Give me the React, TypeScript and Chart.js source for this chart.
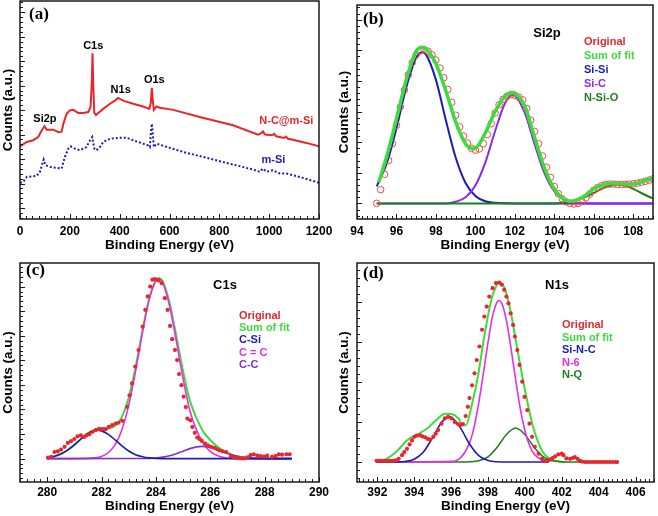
import React, { useEffect, useRef } from "react";
import { Chart, registerables } from "chart.js";

Chart.register(...registerables);

// ---------------- (a) survey spectra ----------------
const surveyNCEnergy = [0, 27, 53, 73, 87, 98, 107, 134, 154, 167, 174, 187, 200, 214, 234, 254, 274, 283, 288, 291, 294, 298, 305, 314, 334, 361, 381, 394, 414, 454, 494, 519, 525, 529, 533, 537, 548, 561, 615, 721, 855, 955, 968, 975, 982, 1000, 1015, 1020, 1028, 1060, 1068, 1075, 1095, 1149, 1200];
const surveyNCCounts = [2.52, 2.70, 2.77, 2.90, 3.17, 3.34, 3.20, 3.20, 3.10, 3.12, 3.44, 3.85, 3.99, 4.01, 3.88, 3.88, 3.92, 4.12, 5.07, 6.32, 5.07, 3.90, 3.80, 3.88, 4.05, 4.26, 4.39, 4.50, 4.39, 4.26, 4.15, 4.05, 4.30, 4.91, 4.40, 4.01, 4.15, 4.10, 4.01, 3.72, 3.38, 3.00, 3.06, 3.13, 3.01, 2.97, 2.99, 3.03, 2.93, 2.86, 2.92, 2.83, 2.79, 2.66, 2.52];
const surveyMSiEnergy = [0, 13, 27, 67, 80, 90, 95, 102, 120, 167, 180, 194, 203, 220, 240, 267, 281, 290, 298, 307, 321, 334, 361, 401, 428, 454, 494, 514, 521, 525, 529, 533, 537, 548, 575, 655, 788, 935, 962, 975, 989, 1015, 1042, 1069, 1122, 1200];
const surveyMSiCounts = [1.03, 1.07, 1.27, 1.31, 1.48, 1.82, 1.98, 1.75, 1.68, 1.61, 2.09, 2.43, 2.52, 2.43, 2.36, 2.49, 2.77, 2.90, 2.43, 2.36, 2.49, 2.70, 2.83, 2.87, 2.87, 2.77, 2.63, 2.56, 2.49, 3.04, 3.44, 3.04, 2.49, 2.63, 2.54, 2.29, 1.95, 1.57, 1.48, 1.61, 1.48, 1.54, 1.41, 1.41, 1.27, 1.03];
const surveyPeakLabels = ["Si2p", "C1s", "N1s", "O1s"];
const surveyPeakEnergy = [100, 294, 404, 539];
const surveyPeakLevel = [3.65, 6.62, 4.83, 5.22];

// ---------------- (b) Si2p ----------------
const si2pOrigEnergy = [95.0, 95.2, 95.4, 95.6, 95.8, 96.0, 96.2, 96.4, 96.6, 96.8, 97.0, 97.2, 97.4, 97.6, 97.8, 98.0, 98.2, 98.4, 98.6, 98.8, 99.0, 99.2, 99.4, 99.6, 99.8, 100.0, 100.2, 100.4, 100.6, 100.8, 101.0, 101.2, 101.4, 101.6, 101.8, 102.0, 102.2, 102.4, 102.6, 102.8, 103.0, 103.2, 103.4, 103.6, 103.8, 104.0, 104.2, 104.4, 104.6, 104.8, 105.0, 105.2, 105.4, 105.6, 105.8, 106.0, 106.2, 106.4, 106.6, 106.8, 107.0, 107.2, 107.4, 107.6, 107.8, 108.0, 108.2, 108.4, 108.6, 108.8, 109.0];
const si2pOrigCounts = [0.0, 0.45, 0.95, 1.4, 1.95, 2.55, 3.15, 3.7, 4.2, 4.6, 4.85, 4.98, 5.02, 4.97, 4.85, 4.68, 4.42, 4.1, 3.72, 3.3, 2.88, 2.5, 2.2, 1.97, 1.8, 1.74, 1.78, 1.95, 2.25, 2.6, 2.95, 3.22, 3.4, 3.5, 3.55, 3.53, 3.47, 3.38, 3.1, 2.72, 2.35, 1.95, 1.55, 1.18, 0.85, 0.55, 0.32, 0.15, 0.05, 0.0, -0.02, 0.0, 0.06, 0.18, 0.31, 0.43, 0.52, 0.58, 0.62, 0.63, 0.63, 0.62, 0.62, 0.62, 0.63, 0.64, 0.66, 0.69, 0.72, 0.76, 0.8];
const si2pSumEnergy = [95.1, 95.5, 96.0, 96.5, 97.0, 97.3, 97.5, 98.0, 98.5, 99.0, 99.5, 99.85, 100.0, 100.5, 101.0, 101.5, 101.9, 102.0, 102.5, 103.0, 103.5, 104.0, 104.5, 104.9, 105.5, 106.0, 106.5, 107.0, 107.5, 108.0, 108.5, 109.0];
const si2pSumCounts = [0.69, 1.52, 2.76, 4.05, 4.97, 5.10, 5.05, 4.56, 3.68, 2.66, 1.95, 1.80, 1.81, 2.3, 3.0, 3.5, 3.62, 3.6, 3.18, 2.15, 1.15, 0.47, 0.13, 0.07, 0.23, 0.48, 0.62, 0.66, 0.63, 0.63, 0.73, 0.82];
const siSiEnergy = [95.0, 95.5, 96.0, 96.5, 97.0, 97.3, 97.5, 98.0, 98.5, 99.0, 99.5, 100.0, 100.5, 101.0, 101.5, 102.0, 109.0];
const siSiCounts = [0.555, 1.294, 2.458, 3.792, 4.760, 4.94, 4.859, 4.034, 2.725, 1.497, 0.668, 0.243, 0.072, 0.017, 0.003, 0, 0];
const siCEnergy = [95.0, 98.5, 99.0, 99.5, 100.0, 100.5, 101.0, 101.5, 101.9, 102.0, 102.5, 103.0, 103.5, 104.0, 104.5, 105.0, 105.5, 106.0, 109.0];
const siCCounts = [0, 0, 0.053, 0.199, 0.583, 1.331, 2.364, 3.272, 3.545, 3.527, 2.961, 1.936, 0.986, 0.391, 0.121, 0.029, 0.005, 0, 0];
const nSiOEnergy = [95.0, 104.0, 104.5, 105.0, 105.5, 106.0, 106.5, 107.0, 107.2, 107.5, 108.0, 108.5, 109.0];
const nSiOCounts = [0, 0, 0.030, 0.082, 0.186, 0.340, 0.505, 0.610, 0.62, 0.597, 0.475, 0.307, 0.161];

// ---------------- (c) C1s ----------------
const c1sOrigEnergy = [280.03, 280.15, 280.27, 280.39, 280.51, 280.64, 280.76, 280.88, 281.0, 281.12, 281.24, 281.36, 281.45, 281.55, 281.67, 281.79, 281.91, 282.03, 282.15, 282.27, 282.39, 282.52, 282.62, 282.76, 282.94, 283.03, 283.12, 283.24, 283.36, 283.51, 283.61, 283.7, 283.79, 283.87, 283.97, 284.09, 284.21, 284.33, 284.43, 284.52, 284.6, 284.7, 284.78, 284.85, 284.94, 285.02, 285.1, 285.16, 285.27, 285.34, 285.43, 285.52, 285.6, 285.69, 285.81, 285.91, 286.03, 286.15, 286.24, 286.33, 286.45, 286.58, 286.76, 286.88, 287.0, 287.12, 287.24, 287.36, 287.48, 287.6, 287.73, 287.85, 287.97, 288.09, 288.27, 288.4, 288.52, 288.64, 288.8, 288.92];
const c1sOrigCounts = [0.04, 0.07, 0.27, 0.30, 0.37, 0.48, 0.64, 0.71, 0.80, 0.91, 0.95, 0.88, 0.95, 0.99, 1.09, 1.16, 1.21, 1.20, 1.20, 1.29, 1.36, 1.43, 1.46, 1.54, 2.11, 2.58, 3.06, 3.75, 4.42, 5.37, 6.05, 6.6, 7.0, 7.28, 7.31, 7.25, 7.14, 6.53, 6.05, 5.40, 4.86, 4.42, 4.01, 3.44, 2.99, 2.52, 2.1, 1.63, 1.56, 1.29, 1.05, 0.86, 0.80, 0.72, 0.61, 0.54, 0.48, 0.44, 0.39, 0.34, 0.30, 0.27, 0.10, 0.04, 0.04, 0.02, 0.01, 0.05, 0.14, 0.18, 0.12, 0.10, 0.08, 0.12, 0.07, 0.10, 0.18, 0.16, 0.18, 0.18];
const c1sSumEnergy = [280.0, 280.25, 280.5, 280.75, 281.0, 281.25, 281.5, 281.75, 282.0, 282.25, 282.5, 282.75, 283.0, 283.25, 283.5, 283.75, 284.0, 284.1, 284.25, 284.5, 284.75, 285.0, 285.25, 285.5, 285.75, 286.0, 286.25, 286.5, 286.75, 287.0, 287.25, 287.5, 288.0, 289.0];
const c1sSumCounts = [0.04, 0.09, 0.19, 0.35, 0.56, 0.81, 1.04, 1.18, 1.22, 1.23, 1.34, 1.70, 2.49, 3.71, 5.18, 6.50, 7.26, 7.35, 7.21, 6.35, 4.99, 3.56, 2.36, 1.63, 1.09, 0.76, 0.50, 0.31, 0.18, 0.09, 0.045, 0.02, 0, 0];
const cSiEnergy = [280.0, 280.25, 280.5, 280.75, 281.0, 281.25, 281.5, 281.75, 281.85, 282.0, 282.25, 282.5, 282.75, 283.0, 283.25, 283.5, 283.75, 284.0, 284.5, 289.0];
const cSiCounts = [0.04, 0.09, 0.19, 0.35, 0.56, 0.81, 1.03, 1.15, 1.16, 1.13, 0.99, 0.76, 0.52, 0.31, 0.16, 0.08, 0.03, 0.01, 0, 0];
const cEqCEnergy = [280.0, 281.5, 281.75, 282.0, 282.25, 282.5, 282.75, 283.0, 283.25, 283.5, 283.75, 284.0, 284.1, 284.25, 284.5, 284.75, 285.0, 285.25, 285.5, 285.75, 286.0, 286.25, 286.5, 286.75, 287.0, 289.0];
const cEqCCounts = [0, 0.01, 0.03, 0.09, 0.24, 0.57, 1.18, 2.18, 3.55, 5.10, 6.47, 7.24, 7.31, 7.15, 6.23, 4.79, 3.25, 1.95, 1.15, 0.6, 0.3, 0.13, 0.05, 0.015, 0, 0];
const cCEnergy = [280.0, 283.5, 284.0, 284.25, 284.5, 284.75, 285.0, 285.25, 285.5, 285.7, 286.0, 286.25, 286.5, 286.75, 287.0, 287.25, 287.5, 288.0, 289.0];
const cCCounts = [0, 0.005, 0.028, 0.061, 0.118, 0.203, 0.306, 0.408, 0.48, 0.5, 0.457, 0.37, 0.264, 0.166, 0.092, 0.045, 0.02, 0, 0];

// ---------------- (d) N1s ----------------
const n1sOrigEnergy = [391.96, 392.1, 392.25, 392.4, 392.55, 392.7, 392.85, 393.0, 393.16, 393.34, 393.46, 393.61, 393.75, 393.88, 394.0, 394.14, 394.32, 394.45, 394.59, 394.72, 394.86, 395.04, 395.17, 395.3, 395.48, 395.66, 395.84, 396.02, 396.2, 396.38, 396.5, 396.64, 396.79, 396.91, 397.0, 397.14, 397.27, 397.39, 397.54, 397.68, 397.8, 397.93, 398.07, 398.25, 398.43, 398.61, 398.75, 398.88, 399.0, 399.11, 399.23, 399.36, 399.46, 399.59, 399.71, 399.86, 399.98, 400.13, 400.25, 400.39, 400.54, 400.75, 400.93, 401.11, 401.25, 401.38, 401.5, 401.64, 401.82, 402.0, 402.09, 402.25, 402.45, 402.6, 402.71, 402.85, 402.98, 403.1, 403.25, 403.4, 403.55, 403.7, 403.85, 404.0, 404.15, 404.3, 404.45, 404.6, 404.75, 404.9, 405.0];
const n1sOrigCounts = [0.03, 0.03, 0.03, 0.03, 0.03, 0.03, 0.03, 0.04, 0.08, 0.17, 0.25, 0.33, 0.44, 0.54, 0.63, 0.66, 0.67, 0.64, 0.62, 0.58, 0.56, 0.63, 0.71, 0.80, 0.96, 1.09, 1.13, 1.09, 1.00, 0.95, 0.92, 0.95, 1.15, 1.38, 1.6, 1.92, 2.22, 2.55, 2.89, 3.31, 3.64, 3.89, 4.14, 4.35, 4.48, 4.49, 4.44, 4.31, 4.14, 3.97, 3.72, 3.43, 3.14, 2.80, 2.43, 2.01, 1.63, 1.30, 0.96, 0.63, 0.38, 0.21, 0.08, 0.03, 0.04, 0.06, 0.10, 0.14, 0.19, 0.21, 0.17, 0.09, 0.08, 0.10, 0.12, 0.08, 0.03, 0.01, 0.0, 0.0, 0.0, 0.0, 0.0, 0.0, 0.0, 0.0, 0.0, 0.0, 0.0, 0.0, 0.0];
const n1sSumEnergy = [392.0, 392.5, 393.1, 393.6, 394.1, 394.7, 395.2, 395.66, 396.0, 396.4, 396.64, 396.8, 397.1, 397.45, 397.8, 398.16, 398.43, 398.6, 398.9, 399.25, 399.6, 400.04, 400.4, 400.75, 401.1, 401.6, 402.2];
const n1sSumCounts = [0.0, 0.08, 0.29, 0.54, 0.67, 0.84, 1.05, 1.21, 1.2, 1.09, 0.92, 0.92, 1.38, 2.13, 3.14, 4.02, 4.39, 4.48, 4.35, 3.72, 2.8, 1.72, 0.96, 0.46, 0.17, 0.04, 0.0];
const siNCEnergy = [392.0, 393.0, 393.5, 394.0, 394.5, 395.0, 395.5, 395.9, 396.0, 396.5, 397.0, 397.5, 398.0, 398.5, 399.0, 401.3];
const siNCCounts = [0, 0.002, 0.013, 0.07, 0.25, 0.61, 1.0, 1.13, 1.12, 0.86, 0.45, 0.16, 0.04, 0.006, 0, 0];
const n6Energy = [392.0, 396.0, 396.5, 397.0, 397.25, 397.5, 397.75, 398.0, 398.25, 398.5, 398.6, 398.75, 399.0, 399.25, 399.5, 399.75, 400.0, 400.25, 400.5, 401.0, 401.3];
const n6Counts = [0, 0.015, 0.10, 0.48, 0.88, 1.48, 2.21, 2.99, 3.65, 4.01, 4.04, 3.97, 3.54, 2.84, 2.06, 1.34, 0.79, 0.42, 0.2, 0.03, 0];
const nQEnergy = [392.0, 396.5, 397.0, 397.5, 398.0, 398.5, 399.0, 399.5, 400.0, 400.5, 401.0, 401.5, 402.0, 402.5, 403.2];
const nQCounts = [0, 0, 0.005, 0.03, 0.13, 0.37, 0.69, 0.85, 0.69, 0.37, 0.13, 0.03, 0.005, 0, 0];

// ---------------- styles ----------------
const RED = "#e8262b";
const CIRCLE_RED = "#f04a4a";
const SUM_GREEN = "#3ddc3d";
const BLUE = "#1c1cb8";
const VIOLET = "#8a2be2";
const PURPLE = "#7d35c8";
const MAGENTA = "#e62ee6";
const DARK_GREEN = "#1f7f1f";
const AXIS = "#1a1a1a";
const SANS = '"Liberation Sans", Arial, sans-serif';
const SERIF = '"Liberation Serif", "Times New Roman", serif';

const zip = (xs: number[], ys: number[]) => xs.map((x, i) => ({ x, y: ys[i] }));

function lineDs(label: string, xs: number[], ys: number[], color: string, width: number, smooth = true, dash: number[] = []) {
  return {
    label,
    data: zip(xs, ys),
    showLine: true,
    borderColor: color,
    backgroundColor: color,
    borderWidth: width,
    borderDash: dash,
    pointRadius: 0,
    fill: false,
    tension: 0,
    cubicInterpolationMode: smooth ? "monotone" : "default",
  };
}

function dotDs(label: string, xs: number[], ys: number[], open: boolean) {
  return {
    label,
    data: zip(xs, ys),
    showLine: false,
    pointStyle: "circle",
    pointRadius: open ? 3.3 : 2.1,
    pointBorderWidth: open ? 1 : 0,
    pointBorderColor: open ? CIRCLE_RED : RED,
    pointBackgroundColor: open ? "rgba(0,0,0,0)" : RED,
  };
}

const decoPlugin = {
  id: "deco",
  afterDraw(chart: any) {
    const o = chart.options.plugins.deco;
    if (!o) return;
    const { ctx, chartArea: ca } = chart;
    const xs = chart.scales.x;
    const ys = chart.scales.y;
    ctx.save();
    ctx.strokeStyle = AXIS;
    ctx.lineWidth = 1;
    ctx.beginPath();
    const xt = xs.ticks.map((t: any) => t.value);
    const xm = (xt[1] - xt[0]) / o.xMinor;
    const xk0 = Math.ceil((xs.min - xt[0]) / xm - 1e-6);
    const xk1 = Math.floor((xs.max - xt[0]) / xm + 1e-6);
    for (let k = xk0; k <= xk1; k++) {
      const p = Math.round(xs.getPixelForValue(xt[0] + k * xm)) + 0.5;
      const len = k % o.xMinor === 0 ? 5 : 3;
      ctx.moveTo(p, ca.bottom);
      ctx.lineTo(p, ca.bottom - len);
    }
    const yt = ys.ticks.map((t: any) => t.value);
    const ym = (yt[1] - yt[0]) / o.yMinor;
    const yk0 = Math.ceil((ys.min - yt[0]) / ym - 1e-6);
    const yk1 = Math.floor((ys.max - yt[0]) / ym + 1e-6);
    for (let k = yk0; k <= yk1; k++) {
      const p = Math.round(ys.getPixelForValue(yt[0] + k * ym)) + 0.5;
      const len = k % o.yMinor === 0 ? 5 : 3;
      ctx.moveTo(ca.left, p);
      ctx.lineTo(ca.left + len, p);
    }
    ctx.stroke();
    ctx.lineWidth = 1.5;
    ctx.strokeRect(ca.left, ca.top, ca.right - ca.left, ca.bottom - ca.top);

    ctx.textBaseline = "middle";
    ctx.fillStyle = "#000";
    ctx.textAlign = "left";
    ctx.font = `bold 17px ${SERIF}`;
    ctx.fillText(o.letter, ca.left + o.letterX, ca.top + o.letterY);
    if (o.heading) {
      ctx.textAlign = "center";
      ctx.font = `bold 13px ${SANS}`;
      ctx.fillText(o.heading.text, ca.left + o.heading.x, ca.top + o.heading.y);
    }
    if (o.legend) {
      ctx.textAlign = "left";
      ctx.font = `bold 11px ${SANS}`;
      o.legend.items.forEach((it: any, i: number) => {
        ctx.fillStyle = it.color;
        ctx.fillText(it.text, ca.left + o.legend.x, ca.top + o.legend.y + i * o.legend.dy);
      });
    }
    if (o.notes) {
      ctx.textAlign = "center";
      ctx.font = `bold 11px ${SANS}`;
      o.notes.forEach((n: any) => {
        ctx.fillStyle = n.color;
        ctx.fillText(n.text, xs.getPixelForValue(n.x), ys.getPixelForValue(n.y));
      });
    }
    ctx.restore();
  },
};

type Geo = {
  left: number; top: number; width: number; height: number;
  padTop: number; padRight: number; yAxisW: number; xAxisH: number;
  tickPad: number; xTitlePad: number; yTitlePad: number;
};

function makeConfig(geo: Geo, xr: [number, number, number], yr: [number, number], datasets: any[], deco: any) {
  return {
    type: "scatter",
    data: { datasets },
    plugins: [decoPlugin],
    options: {
      responsive: false,
      animation: false,
      events: [],
      layout: { padding: { left: 0, top: geo.padTop, right: geo.padRight, bottom: 0 } },
      plugins: { legend: { display: false }, tooltip: { enabled: false }, deco },
      scales: {
        x: {
          type: "linear",
          min: xr[0],
          max: xr[1],
          afterFit: (s: any) => { s.height = geo.xAxisH; },
          grid: { display: false, drawTicks: false, tickLength: 0 },
          border: { display: false },
          ticks: {
            stepSize: xr[2],
            includeBounds: false,
            autoSkip: false,
            maxRotation: 0,
            padding: geo.tickPad,
            color: "#000",
            font: { family: SANS, size: 12, weight: "bold" },
            callback: (v: any) => String(v),
          },
          title: {
            display: true,
            text: "Binding Energy (eV)",
            color: "#000",
            font: { family: SANS, size: 13.5, weight: "bold" },
            padding: { top: 0, bottom: geo.xTitlePad },
          },
        },
        y: {
          type: "linear",
          min: yr[0],
          max: yr[1],
          afterFit: (s: any) => { s.width = geo.yAxisW; },
          grid: { display: false, drawTicks: false, tickLength: 0 },
          border: { display: false },
          ticks: { display: false, stepSize: 1, includeBounds: false },
          title: {
            display: true,
            text: "Counts (a.u.)",
            color: "#000",
            font: { family: SANS, size: 13.5, weight: "bold" },
            padding: { top: geo.yTitlePad, bottom: 0 },
          },
        },
      },
    },
  };
}

function Panel({ geo, build }: { geo: Geo; build: () => any }) {
  const ref = useRef<HTMLCanvasElement>(null);
  useEffect(() => {
    const chart = new Chart(ref.current as HTMLCanvasElement, build());
    return () => chart.destroy();
  }, []);
  return (
    <canvas
      ref={ref}
      width={geo.width}
      height={geo.height}
      style={{ position: "absolute", left: geo.left, top: geo.top, width: geo.width, height: geo.height }}
    />
  );
}

const geoA: Geo = { left: 0, top: 0, width: 345, height: 258, padTop: 1, padRight: 26, yAxisW: 20, xAxisH: 39, tickPad: 5, xTitlePad: 5, yTitlePad: 0 };
const geoB: Geo = { left: 329, top: 0, width: 329, height: 258, padTop: 1, padRight: 2, yAxisW: 28, xAxisH: 39, tickPad: 5, xTitlePad: 5, yTitlePad: 7 };
const geoC: Geo = { left: 0, top: 258, width: 345, height: 258, padTop: 5, padRight: 26, yAxisW: 20, xAxisH: 34, tickPad: 3, xTitlePad: 1.5, yTitlePad: 0 };
const geoD: Geo = { left: 329, top: 258, width: 329, height: 258, padTop: 5, padRight: 2, yAxisW: 28, xAxisH: 34, tickPad: 3, xTitlePad: 1.5, yTitlePad: 7 };

const buildA = () =>
  makeConfig(
    geoA,
    [0, 1200, 200],
    [-0.45, 8.46],
    [
      lineDs("N-C@m-Si", surveyNCEnergy, surveyNCCounts, RED, 2, false),
      lineDs("m-Si", surveyMSiEnergy, surveyMSiCounts, BLUE, 2, false, [2, 2]),
    ],
    {
      letter: "(a)", letterX: 9, letterY: 14, xMinor: 8, yMinor: 5,
      notes: [
        ...surveyPeakLabels.map((t, i) => ({ text: t, x: surveyPeakEnergy[i], y: surveyPeakLevel[i], color: "#000" })),
        { text: "N-C@m-Si", x: 1069, y: 3.55, color: RED },
        { text: "m-Si", x: 1017, y: 1.97, color: BLUE },
      ],
    }
  );

const buildB = () =>
  makeConfig(
    geoB,
    [94, 109, 2],
    [-0.51, 6.48],
    [
      lineDs("Sum of fit", si2pSumEnergy, si2pSumCounts, SUM_GREEN, 3.5),
      dotDs("Original", si2pOrigEnergy, si2pOrigCounts, true),
      lineDs("N-Si-O", nSiOEnergy, nSiOCounts, DARK_GREEN, 2),
      lineDs("Si-C", siCEnergy, siCCounts, VIOLET, 2),
      lineDs("Si-Si", siSiEnergy, siSiCounts, BLUE, 2),
    ],
    {
      letter: "(b)", letterX: 6, letterY: 15, xMinor: 8, yMinor: 5,
      heading: { text: "Si2p", x: 190, y: 28 },
      legend: {
        x: 227, y: 37, dy: 14,
        items: [
          { text: "Original", color: RED },
          { text: "Sum of fit", color: SUM_GREEN },
          { text: "Si-Si", color: BLUE },
          { text: "Si-C", color: VIOLET },
          { text: "N-Si-O", color: DARK_GREEN },
        ],
      },
    }
  );

const buildC = () =>
  makeConfig(
    geoC,
    [279, 290, 2],
    [-0.95, 7.96],
    [
      dotDs("Original", c1sOrigEnergy, c1sOrigCounts, false),
      lineDs("C-Si", cSiEnergy, cSiCounts, BLUE, 1.6),
      lineDs("C-C", cCEnergy, cCCounts, PURPLE, 1.6),
      lineDs("C = C", cEqCEnergy, cEqCCounts, MAGENTA, 1.6),
      lineDs("Sum of fit", c1sSumEnergy, c1sSumCounts, SUM_GREEN, 2),
    ],
    {
      letter: "(c)", letterX: 6, letterY: 8, xMinor: 8, yMinor: 5,
      heading: { text: "C1s", x: 205, y: 22 },
      legend: {
        x: 219, y: 53, dy: 12.2,
        items: [
          { text: "Original", color: RED },
          { text: "Sum of fit", color: SUM_GREEN },
          { text: "C-Si", color: BLUE },
          { text: "C = C", color: MAGENTA },
          { text: "C-C", color: PURPLE },
        ],
      },
    }
  );

const buildD = () =>
  makeConfig(
    geoD,
    [390.9, 407, 2],
    [-0.5, 4.98],
    [
      dotDs("Original", n1sOrigEnergy, n1sOrigCounts, false),
      lineDs("Si-N-C", siNCEnergy, siNCCounts, BLUE, 1.6),
      lineDs("N-6", n6Energy, n6Counts, MAGENTA, 1.6),
      lineDs("N-Q", nQEnergy, nQCounts, DARK_GREEN, 1.6),
      lineDs("Sum of fit", n1sSumEnergy, n1sSumCounts, SUM_GREEN, 2),
    ],
    {
      letter: "(d)", letterX: 6, letterY: 11, xMinor: 8, yMinor: 5,
      heading: { text: "N1s", x: 200, y: 22 },
      legend: {
        x: 205, y: 62, dy: 12.5,
        items: [
          { text: "Original", color: RED },
          { text: "Sum of fit", color: SUM_GREEN },
          { text: "Si-N-C", color: BLUE },
          { text: "N-6", color: MAGENTA },
          { text: "N-Q", color: DARK_GREEN },
        ],
      },
    }
  );

export default function App() {
  return (
    <div style={{ position: "absolute", left: 0, top: 0, width: 658, height: 516, background: "#fff", overflow: "hidden" }}>
      <Panel geo={geoA} build={buildA} />
      <Panel geo={geoB} build={buildB} />
      <Panel geo={geoC} build={buildC} />
      <Panel geo={geoD} build={buildD} />
    </div>
  );
}
